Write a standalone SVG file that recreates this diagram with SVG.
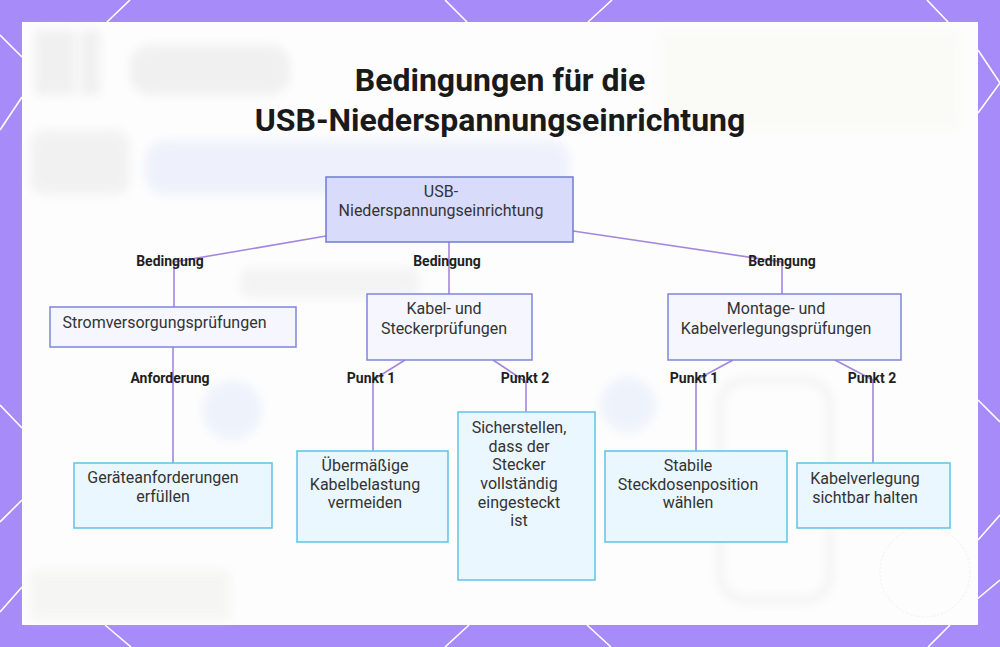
<svg xmlns="http://www.w3.org/2000/svg" width="1000" height="647" viewBox="0 0 1000 647">
<defs>
<style>
.bgline{stroke:#ffffff;stroke-width:1.6;fill:none}
.conn{stroke:#a486e0;stroke-width:1.6;fill:none}
.root{fill:#d9dbfb;stroke:#6f7bd2;stroke-width:1.5}
.mid{fill:#f5f6fe;stroke:#7c86d8;stroke-width:1.5}
.leaf{fill:#ebf7fe;stroke:#5ec3e3;stroke-width:1.5}
.t{font-family:Roboto,"Liberation Sans",sans-serif;font-size:16px;fill:#333333;text-anchor:middle}
.lbl{font-family:Roboto,"Liberation Sans",sans-serif;font-size:14px;font-weight:bold;fill:#1f1f1f;text-anchor:middle}
.title{font-family:Roboto,"Liberation Sans",sans-serif;font-size:32px;font-weight:bold;fill:#1a1a1a;text-anchor:middle}
</style>
<filter id="blur" x="-20%" y="-20%" width="140%" height="140%"><feGaussianBlur stdDeviation="5"/></filter>
</defs>
<rect x="0" y="0" width="1000" height="647" fill="#a78bf8"/>
<g id="pattern">
<path class="bgline" d="M107,22L130,0M445,0L467,22M588,22L612,0M927,0L948,22"/>
<path class="bgline" d="M105,625L131,647M469,625L445,647M587,625L611,647M950,625L928,647"/>
<path class="bgline" d="M0,35L22,57M0,130L22,97M0,405L22,428M0,522L22,500M0,612L22,587"/>
<path class="bgline" d="M978,50L1000,83L978,113M978,400L1000,422M978,540L1000,515M976,600L1000,580"/>
</g>
<rect x="22" y="22" width="956" height="603" fill="#fdfdfd"/>
<g id="background" filter="url(#blur)" opacity="0.55">
<rect x="35" y="30" width="40" height="65" fill="#e6e6e6"/>
<rect x="80" y="30" width="20" height="65" fill="#e6e6e6"/>
<rect x="130" y="45" width="160" height="50" rx="20" fill="#e6e6e6"/>
<rect x="30" y="130" width="100" height="65" rx="15" fill="#e9e9e9"/>
<rect x="145" y="140" width="425" height="55" rx="20" fill="#e2e9fa"/>
<rect x="240" y="268" width="180" height="30" rx="10" fill="#ececec"/>
<circle cx="232" cy="410" r="30" fill="#e2eafb"/>
<circle cx="628" cy="405" r="28" fill="#e2eafb"/>
<rect x="720" y="380" width="110" height="220" rx="25" fill="none" stroke="#ececec" stroke-width="8"/>
<rect x="30" y="570" width="200" height="50" fill="#f0f0ee"/>
<rect x="660" y="30" width="300" height="100" fill="#f8f8f2"/>
</g>
<circle cx="925" cy="572" r="45" fill="none" stroke="#f0f0f0" stroke-width="1" stroke-dasharray="2 2"/>
<g id="title">
<text class="title" x="500" y="91">Bedingungen für die</text>
<text class="title" x="500" y="131">USB-Niederspannungseinrichtung</text>
</g>
<g id="connectors">
<polyline class="conn" points="326,236 174,262 174,307"/>
<line class="conn" x1="449" y1="242" x2="449" y2="294"/>
<polyline class="conn" points="573,231 782,262 782,294"/>
<line class="conn" x1="173" y1="347" x2="173" y2="463"/>
<polyline class="conn" points="405,360 373,380 373,451"/>
<polyline class="conn" points="493,360 526,382 526,412"/>
<polyline class="conn" points="733,360 696,380 696,451"/>
<polyline class="conn" points="835,360 873,380 873,463"/>
<text class="lbl" x="170" y="266">Bedingung</text>
<text class="lbl" x="447" y="266">Bedingung</text>
<text class="lbl" x="782" y="266">Bedingung</text>
<text class="lbl" x="170" y="383">Anforderung</text>
<text class="lbl" x="371" y="383">Punkt 1</text>
<text class="lbl" x="525" y="383">Punkt 2</text>
<text class="lbl" x="694" y="383">Punkt 1</text>
<text class="lbl" x="872" y="383">Punkt 2</text>
</g>
<g id="root">
<rect class="root" x="326" y="177" width="247" height="65"/>
<text class="t" x="441" y="197">USB-</text>
<text class="t" x="441" y="216">Niederspannungseinrichtung</text>
</g>
<g id="strom">
<rect class="mid" x="50" y="307" width="246" height="40"/>
<text class="t" x="164.5" y="328">Stromversorgungsprüfungen</text>
</g>
<g id="kabel">
<rect class="mid" x="367" y="294" width="165" height="66"/>
<text class="t" x="444" y="314">Kabel- und</text>
<text class="t" x="444" y="334">Steckerprüfungen</text>
</g>
<g id="montage">
<rect class="mid" x="668" y="294" width="233" height="66"/>
<text class="t" x="776" y="314">Montage- und</text>
<text class="t" x="776" y="334">Kabelverlegungsprüfungen</text>
</g>
<g id="geraete">
<rect class="leaf" x="74" y="463" width="198" height="65"/>
<text class="t" x="163" y="483">Geräteanforderungen</text>
<text class="t" x="163" y="502">erfüllen</text>
</g>
<g id="uebermaessig">
<rect class="leaf" x="297" y="451" width="151" height="91"/>
<text class="t" x="365" y="471">Übermäßige</text>
<text class="t" x="365" y="490">Kabelbelastung</text>
<text class="t" x="365" y="508">vermeiden</text>
</g>
<g id="sicherstellen">
<rect class="leaf" x="458" y="412" width="137" height="168"/>
<text class="t" x="519" y="433">Sicherstellen,</text>
<text class="t" x="519" y="452">dass der</text>
<text class="t" x="519" y="470">Stecker</text>
<text class="t" x="519" y="489">vollständig</text>
<text class="t" x="519" y="508">eingesteckt</text>
<text class="t" x="519" y="526">ist</text>
</g>
<g id="stabile">
<rect class="leaf" x="605" y="451" width="182" height="91"/>
<text class="t" x="688" y="471">Stabile</text>
<text class="t" x="688" y="490">Steckdosenposition</text>
<text class="t" x="688" y="508">wählen</text>
</g>
<g id="sichtbar">
<rect class="leaf" x="797" y="463" width="153" height="65"/>
<text class="t" x="865" y="484">Kabelverlegung</text>
<text class="t" x="865" y="503">sichtbar halten</text>
</g>
</svg>
